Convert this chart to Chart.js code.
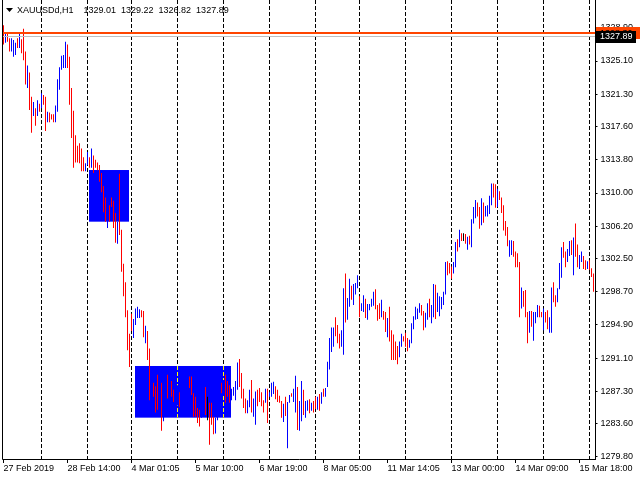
<!DOCTYPE html>
<html>
<head>
<meta charset="utf-8">
<script src="https://cdn.jsdelivr.net/npm/chart.js@4.4.1/dist/chart.umd.min.js"></script>
<style>
  html, body { margin: 0; padding: 0; background: #fff; }
</style>
</head>
<body>
<canvas id="myChart" width="640" height="480"></canvas>
<script>
const symbol = "XAUUSDd,H1";
const lastOhlc = [1329.01, 1329.22, 1326.82, 1327.89];
const bidPrice = 1327.89;
const levelPrice = 1328.30;

// hourly bars, high / low
const highs = [
  1329.2, 1328.2, 1328.2, 1327.7, 1327.7, 1327.5, 1327.2, 1327.7, 1328.2, 1327.6,
  1328.8, 1326.2, 1324.6, 1323.8, 1321.0, 1320.4, 1319.7, 1320.6, 1320.2, 1321.4,
  1321.2, 1321.0, 1319.3, 1319.2, 1319.0, 1319.0, 1320.0, 1323.0, 1324.4, 1325.7,
  1325.8, 1327.3, 1327.0, 1325.6, 1322.0, 1319.4, 1316.6, 1315.4, 1315.7, 1315.1,
  1314.1, 1313.4, 1314.7, 1314.1, 1315.1, 1314.3, 1313.8, 1313.5, 1313.2, 1312.3,
  1310.8, 1309.5, 1307.5, 1308.6, 1309.5, 1309.1, 1307.7, 1306.7, 1312.2, 1305.8,
  1301.9, 1299.8, 1296.6, 1293.9, 1296.2, 1295.6, 1296.8, 1297.0, 1296.7, 1296.6,
  1296.5, 1294.8, 1294.2, 1292.2, 1289.5, 1288.3, 1287.9, 1289.2, 1288.8, 1288.3,
  1286.9, 1288.0, 1289.2, 1288.8, 1288.5, 1287.5, 1287.5, 1288.0, 1287.2, 1287.2,
  1287.7, 1288.6, 1289.1, 1289.0, 1289.0, 1287.1, 1286.7, 1285.4, 1285.2, 1285.7,
  1286.9, 1287.8, 1286.7, 1286.0, 1286.0, 1284.4, 1284.3, 1286.5, 1287.7, 1288.3,
  1288.6, 1289.2, 1288.5, 1288.0, 1287.6, 1287.8, 1288.5, 1290.6, 1291.0, 1289.4,
  1287.6, 1286.5, 1286.3, 1287.5, 1288.6, 1286.5, 1287.3, 1287.5, 1287.7, 1287.2,
  1286.3, 1287.6, 1287.6, 1287.2, 1288.3, 1288.4, 1287.9, 1287.5, 1286.8, 1286.2,
  1285.9, 1286.7, 1286.1, 1286.9, 1287.1, 1287.6, 1289.1, 1287.8, 1286.2, 1288.5,
  1287.5, 1286.2, 1286.3, 1286.4, 1286.0, 1286.2, 1286.7, 1286.7, 1287.0, 1287.2,
  1287.6, 1287.7, 1290.7, 1293.4, 1294.6, 1294.6, 1295.8, 1294.9, 1293.9, 1294.3,
  1299.1, 1300.8, 1298.0, 1300.2, 1299.4, 1299.6, 1299.7, 1300.6, 1298.2, 1297.4,
  1298.3, 1297.9, 1297.3, 1297.3, 1297.9, 1298.7, 1299.0, 1297.2, 1297.4, 1297.8,
  1296.5, 1296.4, 1295.7, 1297.0, 1294.3, 1293.8, 1293.0, 1292.5, 1293.0, 1293.9,
  1293.6, 1294.0, 1293.4, 1293.2, 1295.1, 1295.9, 1297.0, 1296.8, 1297.4, 1297.2,
  1296.5, 1296.3, 1297.4, 1297.9, 1297.2, 1299.6, 1299.5, 1298.6, 1298.2, 1298.1,
  1298.7, 1302.1, 1302.2, 1302.0, 1301.6, 1302.1, 1304.4, 1304.7, 1305.8, 1305.4,
  1305.4, 1305.3, 1305.0, 1305.1, 1307.0, 1308.4, 1309.2, 1308.9, 1308.4, 1309.4,
  1308.9, 1308.5, 1308.6, 1309.7, 1311.1, 1311.1, 1311.0, 1310.5, 1310.2, 1309.5,
  1308.6, 1306.8, 1306.1, 1304.6, 1304.6, 1304.5, 1303.3, 1303.1, 1302.1, 1299.2,
  1298.8, 1298.9, 1296.4, 1296.5, 1296.5, 1296.4, 1296.4, 1297.2, 1297.1, 1296.4,
  1296.8, 1296.4, 1296.6, 1295.8, 1299.2, 1299.8, 1298.3, 1299.1, 1302.0, 1303.8,
  1304.4, 1303.3, 1303.6, 1304.5, 1304.6, 1304.9, 1306.5, 1304.1, 1302.9, 1303.3,
  1302.8, 1302.3, 1302.2, 1302.3, 1301.4, 1300.8
];
const lows = [
  1327.0, 1327.2, 1327.3, 1326.2, 1326.2, 1325.6, 1325.8, 1326.6, 1326.6, 1326.0,
  1325.2, 1322.4, 1322.0, 1319.5, 1316.9, 1318.8, 1317.7, 1318.8, 1319.3, 1319.7,
  1320.1, 1317.1, 1318.1, 1318.1, 1318.4, 1318.1, 1318.1, 1319.3, 1321.8, 1324.1,
  1324.3, 1324.3, 1324.3, 1320.1, 1316.3, 1312.9, 1313.5, 1313.5, 1313.4, 1312.5,
  1312.5, 1312.5, 1313.2, 1312.9, 1312.9, 1312.3, 1312.9, 1312.6, 1311.3, 1310.1,
  1307.8, 1306.7, 1306.0, 1306.7, 1308.4, 1306.0, 1304.3, 1304.2, 1305.2, 1301.0,
  1298.2, 1295.8, 1292.0, 1290.1, 1294.2, 1293.4, 1294.9, 1295.7, 1295.7, 1295.8,
  1293.5, 1292.8, 1290.9, 1286.3, 1287.2, 1286.7, 1284.9, 1285.2, 1286.3, 1282.8,
  1283.9, 1285.4, 1286.5, 1286.3, 1286.7, 1286.1, 1285.2, 1285.7, 1285.5, 1285.2,
  1285.7, 1286.3, 1286.9, 1287.7, 1286.9, 1284.4, 1284.4, 1283.7, 1283.3, 1284.3,
  1284.6, 1284.6, 1284.0, 1281.2, 1283.5, 1282.4, 1282.5, 1284.0, 1285.7, 1287.1,
  1286.9, 1286.0, 1286.7, 1286.0, 1286.3, 1286.8, 1286.3, 1287.5, 1287.8, 1286.5,
  1285.4, 1284.8, 1284.8, 1285.5, 1284.9, 1284.4, 1283.5, 1285.6, 1286.1, 1285.6,
  1284.9, 1286.0, 1283.7, 1286.7, 1286.7, 1287.0, 1286.4, 1286.1, 1286.0, 1284.3,
  1283.8, 1284.5, 1280.8, 1286.0, 1286.7, 1286.1, 1284.9, 1282.9, 1282.8, 1283.9,
  1284.6, 1284.3, 1285.1, 1284.8, 1285.1, 1284.9, 1285.3, 1285.2, 1285.1, 1285.9,
  1286.7, 1286.7, 1287.8, 1289.8, 1291.8, 1292.4, 1293.6, 1292.8, 1292.2, 1292.4,
  1291.5, 1295.2, 1295.5, 1297.0, 1297.8, 1297.2, 1298.4, 1299.1, 1295.8, 1296.5,
  1296.4, 1295.7, 1295.5, 1296.6, 1297.0, 1297.1, 1296.7, 1295.4, 1295.6, 1295.8,
  1295.5, 1294.1, 1293.5, 1293.0, 1290.9, 1290.9, 1290.9, 1290.4, 1291.2, 1292.4,
  1293.0, 1292.4, 1291.9, 1292.3, 1292.8, 1294.4, 1295.5, 1295.6, 1296.3, 1296.0,
  1294.3, 1294.6, 1295.5, 1295.8, 1295.1, 1295.8, 1295.6, 1296.4, 1295.9, 1296.7,
  1297.2, 1298.4, 1300.6, 1300.8, 1300.2, 1300.8, 1301.5, 1303.3, 1303.8, 1304.5,
  1304.5, 1304.2, 1303.5, 1304.1, 1303.8, 1306.5, 1307.1, 1307.3, 1305.9, 1306.3,
  1306.6, 1307.3, 1307.3, 1307.6, 1308.6, 1309.5, 1308.3, 1308.4, 1309.2, 1307.7,
  1305.7, 1305.1, 1303.9, 1302.7, 1302.9, 1302.7, 1301.5, 1301.5, 1295.8, 1296.8,
  1297.0, 1295.8, 1292.8, 1294.0, 1294.7, 1293.1, 1295.1, 1295.8, 1295.8, 1295.8,
  1294.3, 1295.2, 1294.4, 1294.0, 1294.0, 1297.5, 1297.0, 1297.5, 1299.0, 1300.3,
  1302.6, 1301.5, 1302.1, 1302.8, 1302.9, 1300.6, 1302.7, 1301.5, 1301.3, 1302.1,
  1301.3, 1301.2, 1301.3, 1301.2, 1300.4, 1298.7
];
// u = bull bar, d = bear bar, n = doji
const barDirs = ("dudduuudud dduddududu dduddduuuu uudddddddd duududdddd dduddddudd " +
  "ddddduuuud duddudddud uududduudu uuuddddddu udnddduuud uddduuuudd " +
  "dduuduuddd duduuudddd uduuduuduu duududdudu duuuuudddu uduuduuudu " +
  "uduuuudddu dduddddduu ddduuuuuud duuduuduuu uuddduudud nduduuuddu " +
  "duuuuddudd ddduuddddu ddduduuudd udduudduuu dduududduu dduddd").replace(/ /g, "").split("");

const xTickStep = 32;
const xTickLabels = ["27 Feb 2019", "28 Feb 14:00", "4 Mar 01:05", "5 Mar 10:00", "6 Mar 19:00",
  "8 Mar 05:00", "11 Mar 14:05", "13 Mar 00:00", "14 Mar 09:00", "15 Mar 18:00"];
const yTicks = [1279.80, 1283.60, 1287.30, 1291.10, 1294.90, 1298.70, 1302.50,
  1306.20, 1310.00, 1313.80, 1317.60, 1321.30, 1325.10, 1328.90];
const yMin = 1279.57;
const yMax = 1332.08;

// period separators (bar index where a new day starts)
const daySeparators = [19, 42, 64, 87, 110, 133, 156, 178, 201, 224, 247, 270, 293];

// rectangle objects
const zoneStart = [43, 66];
const zoneEnd = [63, 114];
const zoneTop = [1312.63, 1290.21];
const zoneBottom = [1306.72, 1284.30];

const fontName = "Liberation Sans";
const dirColors = { u: "#0000ff", d: "#ff0000", n: "#000000" };

function zoneRect(chart, i) {
  const x = chart.scales.x;
  const y = chart.scales.y;
  return {
    left: x.getPixelForValue(zoneStart[i]) - 0.5,
    right: x.getPixelForValue(zoneEnd[i]) - 0.5,
    top: y.getPixelForValue(zoneTop[i]),
    bottom: y.getPixelForValue(zoneBottom[i])
  };
}

const backLayer = {
  id: "backLayer",
  beforeDatasetsDraw(chart) {
    const ctx = chart.ctx;
    const area = chart.chartArea;
    ctx.save();
    for (let i = 0; i < zoneStart.length; i++) {
      const r = zoneRect(chart, i);
      ctx.fillStyle = "#0000ff";
      ctx.fillRect(r.left, r.top, r.right - r.left, r.bottom - r.top);
    }
    ctx.lineWidth = 1;
    ctx.setLineDash([4, 2]);
    for (let i = 0; i < daySeparators.length; i++) {
      const px = Math.floor(chart.scales.x.getPixelForValue(daySeparators[i])) + 0.5;
      ctx.strokeStyle = "#000000";
      ctx.beginPath();
      ctx.moveTo(px, area.top);
      ctx.lineTo(px, area.bottom);
      ctx.stroke();
      // over the filled rectangles the dashes show inverted
      for (let j = 0; j < zoneStart.length; j++) {
        const r = zoneRect(chart, j);
        if (px > r.left && px < r.right) {
          ctx.save();
          ctx.beginPath();
          ctx.rect(r.left, r.top, r.right - r.left, r.bottom - r.top);
          ctx.clip();
          ctx.strokeStyle = "#ffff00";
          ctx.beginPath();
          ctx.moveTo(px, area.top);
          ctx.lineTo(px, area.bottom);
          ctx.stroke();
          ctx.restore();
        }
      }
    }
    ctx.restore();
  },
  afterDatasetsDraw(chart) {
    const ctx = chart.ctx;
    const area = chart.chartArea;
    const y = chart.scales.y;
    ctx.save();
    ctx.strokeStyle = "#ff4500";
    ctx.lineWidth = 2;
    ctx.beginPath();
    ctx.moveTo(area.left, y.getPixelForValue(levelPrice));
    ctx.lineTo(area.right + 1, y.getPixelForValue(levelPrice));
    ctx.stroke();
    const by = Math.floor(y.getPixelForValue(bidPrice)) + 0.5;
    ctx.strokeStyle = "#c0c0c0";
    ctx.lineWidth = 1;
    ctx.beginPath();
    ctx.moveTo(area.left, by);
    ctx.lineTo(area.right + 1, by);
    ctx.stroke();
    ctx.restore();
  },
  afterDraw(chart) {
    const ctx = chart.ctx;
    const area = chart.chartArea;
    const y = chart.scales.y;
    ctx.save();
    // chart frame
    ctx.strokeStyle = "#000000";
    ctx.lineWidth = 1;
    ctx.beginPath();
    ctx.moveTo(2.5, 0);
    ctx.lineTo(2.5, 459.5);
    ctx.lineTo(596, 459.5);
    ctx.moveTo(595.5, 0);
    ctx.lineTo(595.5, 460);
    ctx.stroke();

    // price labels on the scale
    ctx.font = "9px '" + fontName + "'";
    ctx.textBaseline = "middle";
    ctx.textAlign = "left";
    const ly = y.getPixelForValue(levelPrice);
    ctx.fillStyle = "#ff4500";
    ctx.fillRect(596, Math.round(ly) - 6, 44, 12);
    ctx.fillStyle = "#000000";
    ctx.fillText(levelPrice.toFixed(2), 600, ly);
    const bpy = y.getPixelForValue(bidPrice);
    ctx.fillStyle = "#000000";
    ctx.fillRect(596, Math.round(bpy) - 6, 40, 12);
    ctx.fillStyle = "#ffffff";
    ctx.fillText(bidPrice.toFixed(2), 600, bpy);

    // header
    ctx.fillStyle = "#000000";
    ctx.beginPath();
    ctx.moveTo(6, 8);
    ctx.lineTo(13, 8);
    ctx.lineTo(9.5, 12);
    ctx.closePath();
    ctx.fill();
    let tx = 17;
    ctx.fillText(symbol, tx, 10.5);
    tx += ctx.measureText(symbol).width + 10;
    for (let i = 0; i < lastOhlc.length; i++) {
      const s = lastOhlc[i].toFixed(2);
      ctx.fillText(s, tx, 10.5);
      tx += ctx.measureText(s).width + 5;
    }
    ctx.restore();
  }
};

const barData = highs.map((h, i) => [lows[i], h]);
const barColors = barDirs.map(d => dirColors[d]);

let myChart = document.getElementById("myChart");
let priceChart = new Chart(myChart, {
  type: "bar",
  data: {
    labels: highs.map((h, i) => i),
    datasets: [{
      data: barData,
      backgroundColor: barColors,
      borderWidth: 0,
      barThickness: 1,
      inflateAmount: 0
    }]
  },
  options: {
    responsive: false,
    animation: false,
    layout: { padding: { left: 2.5, top: 0, right: 0, bottom: 0 } },
    plugins: { legend: { display: false }, tooltip: { enabled: false } },
    scales: {
      x: {
        type: "category",
        offset: true,
        afterBuildTicks: s => { s.ticks = s.ticks.filter(t => t.value % xTickStep === 0); },
        afterFit: s => { s.height = 21; s.paddingLeft = 0; s.paddingRight = 0; },
        grid: { drawOnChartArea: false, offset: false, tickLength: 4, color: "#000000" },
        border: { display: false },
        ticks: {
          autoSkip: false, maxRotation: 0, minRotation: 0, align: "start", padding: 0,
          color: "#000000", font: { family: fontName, size: 9 },
          callback: v => xTickLabels[v / xTickStep]
        }
      },
      y: {
        position: "right",
        min: yMin,
        max: yMax,
        afterBuildTicks: s => { s.ticks = yTicks.map(v => ({ value: v })); },
        afterFit: s => { s.width = 45.5; s.paddingTop = 0; s.paddingBottom = 0; },
        grid: { drawOnChartArea: false, tickLength: 3, color: "#000000" },
        border: { display: false },
        ticks: {
          padding: 3, color: "#000000", font: { family: fontName, size: 9 },
          callback: v => v.toFixed(2)
        }
      }
    }
  },
  plugins: [backLayer]
});
</script>
</body>
</html>
